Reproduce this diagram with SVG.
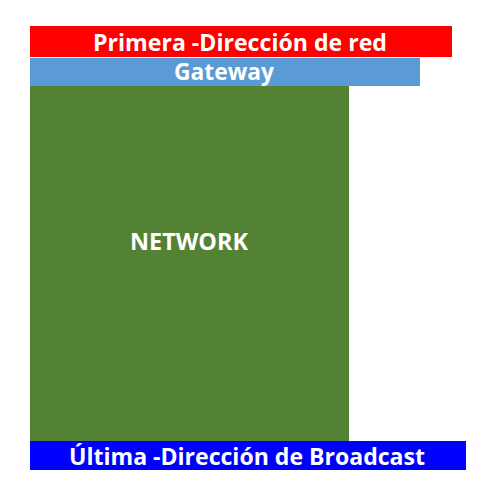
<svg xmlns="http://www.w3.org/2000/svg" width="495" height="488" viewBox="0 0 495 488">
<style>
.t{font-family:"Open Sans","Liberation Sans",sans-serif;font-weight:bold;fill:#fff;text-anchor:middle}
</style>
<rect width="495" height="488" fill="#fff"/>
<g id="red"><rect x="30" y="26" width="422" height="31" fill="#ff0000"/><text class="t" x="240" y="51" font-size="24" textLength="294" lengthAdjust="spacingAndGlyphs">Primera -Dirección de red</text></g>
<g id="gateway"><rect x="30" y="58" width="390" height="28" fill="#5b9bd5"/><text class="t" x="224" y="80" font-size="23" textLength="100" lengthAdjust="spacingAndGlyphs">Gateway</text></g>
<g id="network"><rect x="30" y="86" width="319" height="355" fill="#548235"/><text class="t" x="189" y="250" font-size="23" textLength="118" lengthAdjust="spacingAndGlyphs">NETWORK</text></g>
<g id="broadcast"><rect x="30" y="441" width="436" height="29" fill="#0000ff"/><text class="t" x="247" y="465" font-size="24" textLength="356" lengthAdjust="spacingAndGlyphs">Última -Dirección de Broadcast</text></g>
<g id="connectors"/>
</svg>
